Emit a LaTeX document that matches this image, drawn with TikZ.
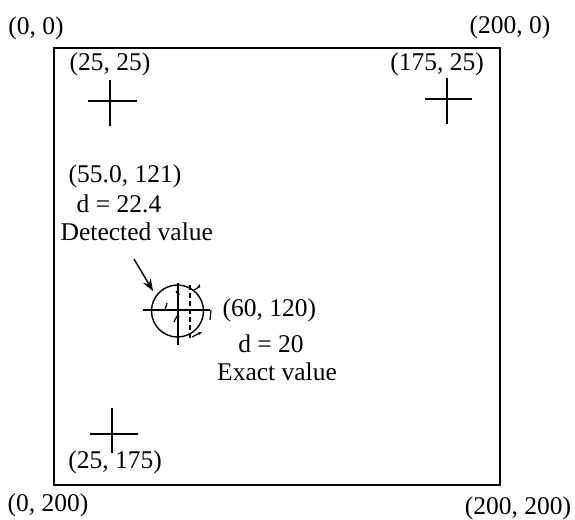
\documentclass[tikz,border=0pt]{standalone}
\usepackage{fontspec}
\setmainfont{Liberation Serif}
\usetikzlibrary{arrows.meta}
\begin{document}
\begin{tikzpicture}[x=1pt,y=-1pt,
  lbl/.style={inner sep=0pt,font=\fontsize{25.5}{30}\selectfont},
  every path/.style={line width=1.4pt}]
\useasboundingbox (0,0) rectangle (575,519);
% frame
\draw (54,48) rectangle (500,485);
% corner labels
\node[lbl] (c00) at (36,28) {(0, 0)};
\node[lbl] (c200) at (510,27) {(200, 0)};
\node[lbl] (c0200) at (48,505) {(0, 200)};
\node[lbl] (c200200) at (518,508) {(200, 200)};
% crosses
\draw (88,101) -- (137,101) (110,80) -- (110,126);
\node[lbl] (p1) at (110,64) {(25, 25)};
\draw (425,99) -- (472,99) (447,78) -- (447,124);
\node[lbl] (p2) at (437,64) {(175, 25)};
\draw (90,434) -- (138,434) (112,408) -- (112,453);
\node[lbl] (p3) at (115,462) {(25, 175)};
% detected circle
\coordinate (cc) at (177.5,311);
\draw (cc) circle (26);
\draw (143,310) -- (210,310) (178,283) -- (178,345);
\draw[dashed,line width=1.1pt,dash pattern=on 5pt off 3pt] (190,285) -- (190,340);
% small rotation arrows
\draw[line width=1.2pt] (176,291) arc (160:110:6);
\draw[line width=1.2pt,-{Stealth[length=4pt]}] (194,290) arc (70:20:10);
\draw[line width=1.2pt] (167,303) -- (165,310);
\draw[line width=1.2pt,-{Stealth[length=4pt]}] (174,322) arc (190:260:7);
\draw[line width=1.2pt,-{Stealth[length=4pt]}] (192,337) -- (202,332);
\draw[line width=1.2pt] (211,310) -- (210,320);
% labels
\node[lbl] (det1) at (125,176) {(55.0, 121)};
\node[lbl] (det2) at (119,204) {d = 22.4};
\node[lbl,anchor=west] (det3) at (60,232) {Detected value};
\draw[-{Stealth[length=12pt,width=9pt]}] (134,259) -- (153,291);
\node[lbl,anchor=west] (ex1) at (222,310) {(60, 120)};
\node[lbl] (ex2) at (271,344) {d = 20};
\node[lbl] (ex3) at (277,372) {Exact value};
\end{tikzpicture}
\end{document}
